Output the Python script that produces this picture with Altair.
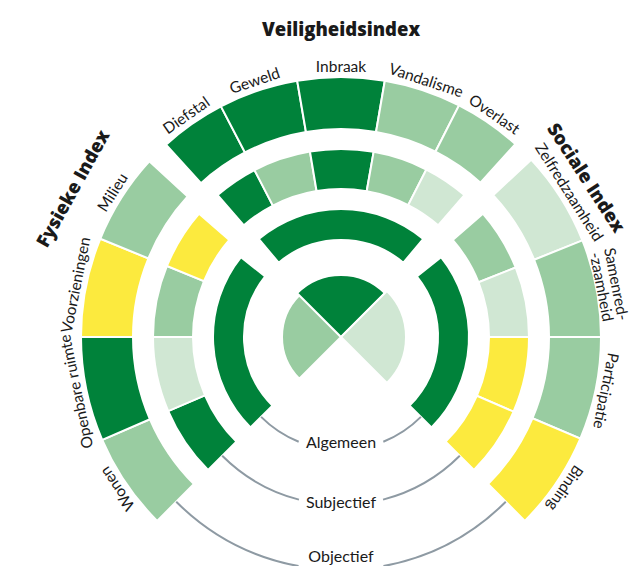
import math
import altair as alt
import pandas as pd

# ---------------- data ----------------
# score class of every segment: dark = much better, mid = better, light = average, yellow = worse
left_labels = ["Wonen", "Openbare ruimte", "Voorzieningen", "Milieu"]
top_labels = ["Diefstal", "Geweld", "Inbraak", "Vandalisme", "Overlast"]
right_labels = ["Zelfredzaamheid", "Samenred-\n-zaamheid", "Participatie", "Binding"]

objectief_left = ["mid", "dark", "yellow", "mid"]
objectief_top = ["dark", "dark", "dark", "mid", "mid"]
objectief_right = ["light", "mid", "mid", "yellow"]

subjectief_left = ["dark", "light", "mid", "yellow"]
subjectief_top = ["dark", "mid", "dark", "mid", "light"]
subjectief_right = ["mid", "light", "yellow", "yellow"]

algemeen = ["dark", "dark", "dark"]          # Fysiek, Veiligheid, Sociaal
index_levels = ["mid", "dark", "light"]     # Fysiek, Veiligheid, Sociaal
index_extent = [59, 62, 65]                 # radius of the centre slices

group_titles = ["Fysieke Index", "Veiligheidsindex", "Sociale Index"]
ring_names = ["Algemeen", "Subjectief", "Objectief"]

levels = ["dark", "mid", "light", "yellow"]
level_colors = ["#00823A", "#99CCA1", "#D0E7D3", "#FCEA3E"]

# ---------------- layout ----------------
CX, CY = 333, 329
obj_edges = {"left": [-135, -113.3, -90, -67.8, -47.5],
             "top": [-42.3, -27.5, -9.7, 9.7, 27.0, 42.1],
             "right": [47, 68.2, 90, 113.0, 135]}
subj_edges = {"left": [-135, -113.2, -90, -67.8, -49],
              "top": [-41, -27.4, -9.5, 10, 27, 41],
              "right": [49, 68.3, 90, 113.4, 135]}
alg_edges = [(-135, -51.4), (-40, 40), (51.4, 135)]
pie_edges = [(-135, -45), (-45, 45), (45, 135)]
R_OBJ = (208, 260)
R_SUBJ = (148, 188)
R_ALG = (97, 128)

rows = []
def add_ring(edges, lv, r):
    for k in ["left", "top", "right"]:
        e = edges[k]
        for i, l in enumerate(lv[k]):
            rows.append(dict(t0=e[i], t1=e[i + 1], r0=r[0], r1=r[1], level=l))

add_ring(obj_edges, {"left": objectief_left, "top": objectief_top, "right": objectief_right}, R_OBJ)
add_ring(subj_edges, {"left": subjectief_left, "top": subjectief_top, "right": subjectief_right}, R_SUBJ)
for (a, b), l in zip(alg_edges, algemeen):
    rows.append(dict(t0=a, t1=b, r0=R_ALG[0], r1=R_ALG[1], level=l))
for (a, b), l, ext in zip(pie_edges, index_levels, index_extent):
    rows.append(dict(t0=a, t1=b, r0=0, r1=ext, level=l))
seg_df = pd.DataFrame(rows)

# connector lines with a gap for the label
gray_rows = []
for r, gap in [(113, 22), (168, 14.5), (233, 10.5)]:
    gray_rows.append(dict(t0=135, t1=180 - gap, r0=r - 1, r1=r + 1))
    gray_rows.append(dict(t0=180 + gap, t1=225, r0=r - 1, r1=r + 1))
gray_df = pd.DataFrame(gray_rows)

lab_rows = []
for k, labs in [("left", left_labels), ("top", top_labels), ("right", right_labels)]:
    e = obj_edges[k]
    for i, t in enumerate(labs):
        tm = (e[i] + e[i + 1]) / 2
        nl = t.count("\n") + 1
        lab_rows.append(dict(label=t, tm=tm, rl=270 + 10 * (nl - 1), rot=tm % 360))
lab_df = pd.DataFrame(lab_rows)

title_df = pd.DataFrame(dict(label=group_titles, tm=[-61, 0, 57], rl=[306, 307, 292],
                             rot=[(-61) % 360, 0, 57]))
ring_df = pd.DataFrame(dict(label=ring_names, tm=[180, 180, 180], rl=[106, 166, 220], rot=[0, 0, 0]))

deg = alt.Scale(domain=[0, 360], range=[0, 2 * math.pi])
col = alt.Color("level:N", scale=alt.Scale(domain=levels, range=level_colors), legend=None)

segs = alt.Chart(seg_df).mark_arc(stroke="white", strokeWidth=2).encode(
    x=alt.value(CX), y=alt.value(CY),
    theta=alt.Theta("t0:Q", scale=deg), theta2="t1:Q",
    radius=alt.Radius("r1:Q", scale=None), radius2="r0:Q",
    color=col,
)
gray = alt.Chart(gray_df).mark_arc(color="#8E9AA3").encode(
    x=alt.value(CX), y=alt.value(CY),
    theta=alt.Theta("t0:Q", scale=deg), theta2="t1:Q",
    radius=alt.Radius("r1:Q", scale=None), radius2="r0:Q",
)

def text_layer(df, **kw):
    return alt.Chart(df).mark_text(align="center", baseline="middle", lineBreak="\n",
                                   color="#1A1A1A", **kw).encode(
        x=alt.value(CX), y=alt.value(CY),
        theta=alt.Theta("tm:Q", scale=deg),
        radius=alt.Radius("rl:Q", scale=None),
        angle=alt.Angle("rot:Q", scale=None),
        text="label:N",
    )

labels = text_layer(lab_df, font="Lato", fontSize=15.5, lineHeight=15)
titles = text_layer(title_df, font="Open Sans", fontSize=18.5, fontWeight=800)
rings = text_layer(ring_df, font="Lato", fontSize=16)

chart = alt.layer(segs, gray, labels, titles, rings).properties(
    width=626, height=558, autosize="none", padding=0
).configure_view(stroke=None)

chart.save("out.html", embed_options={"renderer": "svg", "actions": False})
